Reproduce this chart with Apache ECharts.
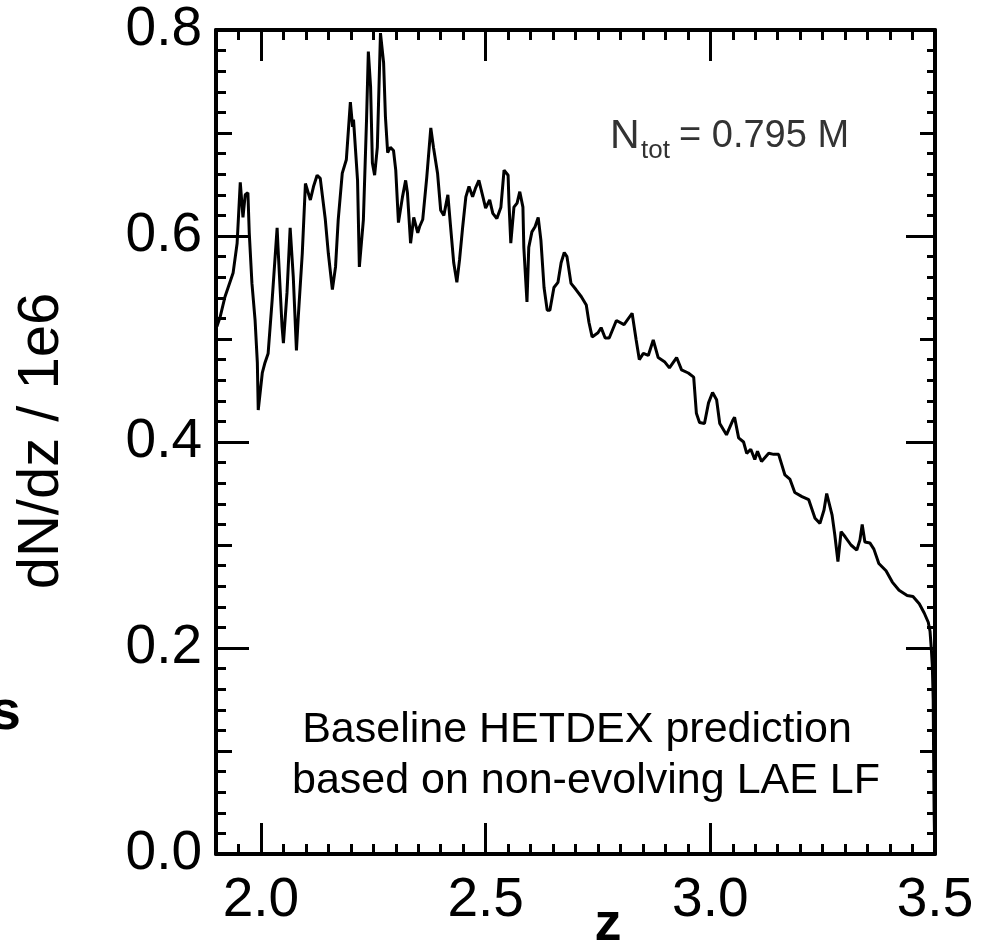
<!DOCTYPE html>
<html>
<head>
<meta charset="utf-8">
<script src="https://cdn.jsdelivr.net/npm/echarts@6/dist/echarts.min.js"></script>
<style>
  html, body { margin: 0; padding: 0; background: #fff; }
  #chart { width: 990px; height: 943px; }
</style>
</head>
<body>
<div id="chart"></div>
<script>
// redshift z
const zValues = [
  1.902, 1.909, 1.920, 1.938, 1.947, 1.954, 1.960, 1.965, 1.971, 1.974,
  1.980, 1.987, 1.992, 1.994, 2.003, 2.009, 2.016, 2.025, 2.036, 2.038,
  2.047, 2.050, 2.058, 2.065, 2.072, 2.079, 2.083, 2.092, 2.099, 2.110,
  2.117, 2.125, 2.132, 2.143, 2.150, 2.159, 2.166, 2.172, 2.181, 2.190,
  2.199, 2.204, 2.206, 2.215, 2.219, 2.228, 2.235, 2.239, 2.244, 2.248,
  2.253, 2.259, 2.266, 2.273, 2.277, 2.282, 2.288, 2.295, 2.300, 2.306,
  2.315, 2.322, 2.326, 2.333, 2.340, 2.349, 2.353, 2.360, 2.369, 2.378,
  2.384, 2.393, 2.400, 2.407, 2.416, 2.422, 2.429, 2.436, 2.442, 2.449,
  2.456, 2.463, 2.471, 2.478, 2.485, 2.494, 2.500, 2.509, 2.516, 2.525,
  2.534, 2.541, 2.550, 2.552, 2.556, 2.563, 2.570, 2.576, 2.583, 2.585,
  2.592, 2.596, 2.603, 2.610, 2.617, 2.623, 2.630, 2.637, 2.643, 2.652,
  2.661, 2.668, 2.675, 2.681, 2.690, 2.701, 2.713, 2.724, 2.730, 2.737,
  2.750, 2.757, 2.766, 2.775, 2.791, 2.808, 2.826, 2.835, 2.842, 2.851,
  2.862, 2.873, 2.884, 2.898, 2.909, 2.925, 2.936, 2.951, 2.963, 2.969,
  2.976, 2.987, 2.996, 3.005, 3.014, 3.021, 3.036, 3.050, 3.054, 3.063,
  3.074, 3.081, 3.090, 3.099, 3.105, 3.114, 3.130, 3.141, 3.152, 3.159,
  3.166, 3.177, 3.188, 3.204, 3.219, 3.233, 3.244, 3.253, 3.259, 3.271,
  3.277, 3.284, 3.291, 3.300, 3.313, 3.326, 3.333, 3.338, 3.344, 3.355,
  3.364, 3.375, 3.391, 3.405, 3.420, 3.438, 3.451, 3.465, 3.476, 3.485,
  3.489, 3.492, 3.494, 3.496, 3.497, 3.498, 3.499, 3.500
];

// dN/dz in units of 1e6
const dndzValues = [
  0.512, 0.521, 0.541, 0.564, 0.593, 0.652, 0.618, 0.640, 0.642, 0.603,
  0.554, 0.518, 0.477, 0.431, 0.467, 0.477, 0.486, 0.538, 0.608, 0.589,
  0.512, 0.496, 0.545, 0.608, 0.560, 0.489, 0.521, 0.583, 0.651, 0.635,
  0.648, 0.659, 0.656, 0.617, 0.583, 0.548, 0.570, 0.616, 0.661, 0.674,
  0.730, 0.706, 0.713, 0.654, 0.570, 0.616, 0.713, 0.779, 0.745, 0.671,
  0.659, 0.686, 0.797, 0.768, 0.716, 0.681, 0.686, 0.683, 0.664, 0.613,
  0.638, 0.654, 0.642, 0.593, 0.618, 0.603, 0.609, 0.616, 0.657, 0.705,
  0.686, 0.661, 0.625, 0.620, 0.640, 0.609, 0.574, 0.555, 0.577, 0.609,
  0.638, 0.648, 0.638, 0.647, 0.654, 0.638, 0.627, 0.635, 0.622, 0.617,
  0.628, 0.664, 0.659, 0.632, 0.593, 0.628, 0.632, 0.643, 0.628, 0.589,
  0.536, 0.589, 0.604, 0.609, 0.618, 0.596, 0.550, 0.528, 0.528, 0.550,
  0.555, 0.574, 0.584, 0.580, 0.554, 0.548, 0.541, 0.533, 0.516, 0.502,
  0.506, 0.511, 0.501, 0.501, 0.518, 0.514, 0.525, 0.499, 0.480, 0.486,
  0.484, 0.499, 0.482, 0.478, 0.472, 0.482, 0.470, 0.467, 0.463, 0.428,
  0.419, 0.418, 0.438, 0.448, 0.441, 0.418, 0.407, 0.421, 0.424, 0.404,
  0.400, 0.389, 0.393, 0.383, 0.391, 0.381, 0.389, 0.388, 0.388, 0.378,
  0.368, 0.364, 0.351, 0.347, 0.344, 0.326, 0.321, 0.334, 0.350, 0.329,
  0.310, 0.284, 0.313, 0.308, 0.300, 0.295, 0.305, 0.320, 0.303, 0.302,
  0.296, 0.282, 0.275, 0.264, 0.256, 0.251, 0.250, 0.243, 0.234, 0.225,
  0.216, 0.198, 0.183, 0.150, 0.091, 0.043, 0.015, 0.000
];

const yTitle = 'dN/dz / 1e6';
const xTitle = 'z';
const ntotParts = ['N', 'tot', '= 0.795 M'];
const noteLines = ['Baseline HETDEX prediction', 'based on non-evolving LAE LF'];

const chart = echarts.init(document.getElementById('chart'), null, { renderer: 'canvas' });

const FONT = 'Liberation Sans, Arial, sans-serif';
const black = '#000';

function xAxisCfg(pos, labels) {
  return {
    type: 'value',
    position: pos,
    min: 1.9,
    max: 3.5,
    splitNumber: 3,
    axisLine: { show: true, onZero: false, lineStyle: { color: black, width: 4 } },
    axisTick: { show: true, inside: true, length: 31, lineStyle: { color: black, width: 3 } },
    minorTick: { show: true, splitNumber: 10, length: 10, lineStyle: { color: black, width: 3 } },
    splitLine: { show: false },
    axisLabel: {
      show: labels,
      fontSize: 55,
      fontFamily: FONT,
      color: black,
      margin: 19,
      formatter: v => (v < 1.95 ? '' : v.toFixed(1))
    }
  };
}

function yAxisCfg(pos, step, len, minor, labels, line) {
  return {
    type: 'value',
    position: pos,
    min: 0,
    max: 0.8,
    interval: step,
    axisLine: { show: line, onZero: false, lineStyle: { color: black, width: 4 } },
    axisTick: { show: true, inside: true, length: len, lineStyle: { color: black, width: 3 } },
    minorTick: { show: minor > 0, splitNumber: 10, length: minor, lineStyle: { color: black, width: 3 } },
    splitLine: { show: false },
    axisLabel: {
      show: labels,
      fontSize: 55,
      fontFamily: FONT,
      color: black,
      margin: 14,
      formatter: v => v.toFixed(1)
    }
  };
}

chart.setOption({
  animation: false,
  backgroundColor: '#fff',
  grid: { left: 216, right: 55, top: 30, bottom: 89, containLabel: false, outerBoundsMode: 'none' },
  xAxis: [xAxisCfg('bottom', true), xAxisCfg('top', false)],
  yAxis: [
    yAxisCfg('left', 0.2, 33, 10, true, true),
    yAxisCfg('left', 0.1, 16, 0, false, false),
    yAxisCfg('right', 0.2, 29, 8, false, true),
    yAxisCfg('right', 0.1, 15, 0, false, false)
  ],
  series: [{
    type: 'line',
    xAxisIndex: 0,
    yAxisIndex: 0,
    showSymbol: false,
    symbol: 'none',
    lineStyle: { color: black, width: 3 },
    data: zValues.map((z, i) => [z, dndzValues[i]])
  }],
  graphic: [
    {
      type: 'text', x: 42, y: 441, rotation: Math.PI / 2,
      style: { text: yTitle, font: '58px ' + FONT, fill: black, textAlign: 'center', textVerticalAlign: 'middle' }
    },
    {
      type: 'text', x: 608, y: 925,
      style: { text: xTitle, font: 'bold 54px ' + FONT, fill: black, textAlign: 'center', textVerticalAlign: 'middle' }
    },
    {
      type: 'text', x: 21, y: 714,
      style: { text: 's', font: 'bold 56px ' + FONT, fill: black, textAlign: 'right', textVerticalAlign: 'middle' }
    },
    {
      type: 'text', x: 610, y: 137,
      style: { text: ntotParts[0], font: '41px ' + FONT, fill: '#333', textAlign: 'left', textVerticalAlign: 'middle' }
    },
    {
      type: 'text', x: 641, y: 151,
      style: { text: ntotParts[1], font: '26px ' + FONT, fill: '#333', textAlign: 'left', textVerticalAlign: 'middle' }
    },
    {
      type: 'text', x: 679, y: 137,
      style: { text: ntotParts[2], font: '38px ' + FONT, fill: '#333', textAlign: 'left', textVerticalAlign: 'middle' }
    },
    {
      type: 'text', x: 577, y: 730,
      style: { text: noteLines[0], font: '43px ' + FONT, fill: black, textAlign: 'center', textVerticalAlign: 'middle' }
    },
    {
      type: 'text', x: 586, y: 781,
      style: { text: noteLines[1], font: '43px ' + FONT, fill: black, textAlign: 'center', textVerticalAlign: 'middle' }
    }
  ]
});
</script>
</body>
</html>
